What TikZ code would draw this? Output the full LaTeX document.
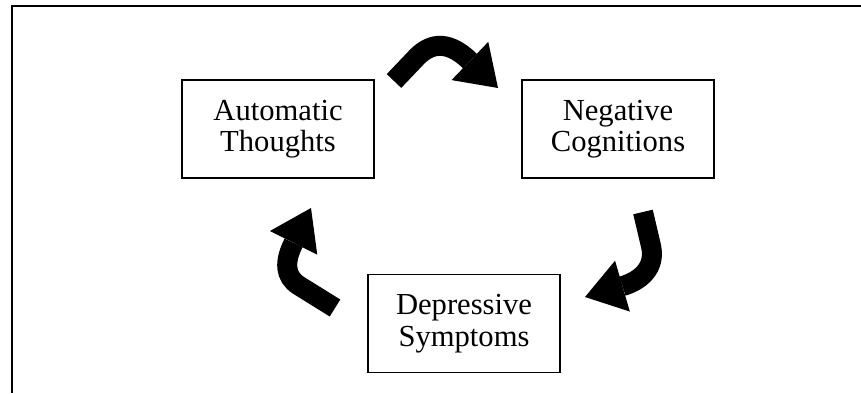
\documentclass[tikz,border=0pt]{standalone}
\usepackage{fontspec}
\setmainfont{Liberation Serif}
\usetikzlibrary{arrows.meta}

\begin{document}
\begin{tikzpicture}[
  x=0.5pt,y=-0.5pt,
  font=\fontsize{15.3}{15.8}\selectfont,
  stage/.style={draw=black,line width=0.8pt,minimum width=96pt,minimum height=49pt,align=center,inner sep=0pt},
  turn/.style={line width=10pt,-{Triangle[length=19.5pt,width=26.5pt,line width=0pt]}},
  frame/.style={line width=0.9pt}
]
\useasboundingbox (0,0) rectangle (861,393);
\draw[frame] (12,393) -- (12,6) -- (861,6);
\foreach \name/\x/\y/\what in {
  auto/278/129/{Automatic\\Thoughts},
  neg/618/129/{Negative\\Cognitions},
  dep/464/323.5/{Depressive\\Symptoms}}
{
  \node[stage] (\name) at (\x,\y) {\what};
}
% auto -> neg
\coordinate (t1) at (394,81);
\coordinate (k1) at (414,60);
\coordinate (h1) at (498,88);
\draw[turn] (t1) -- (k1) .. controls (428,44) and (446,38) .. (h1);
% neg -> dep
\coordinate (t2) at (643,212);
\coordinate (k2) at (651,246);
\coordinate (h2) at (585,297);
\draw[turn] (t2) -- (k2) .. controls (656,268) and (640,281) .. (h2);
% dep -> auto
\coordinate (t3) at (335,308);
\coordinate (k3) at (298,285);
\coordinate (h3) at (311,208);
\draw[turn] (t3) -- (k3) .. controls (285,276) and (284,262) .. (h3);
\end{tikzpicture}
\end{document}
